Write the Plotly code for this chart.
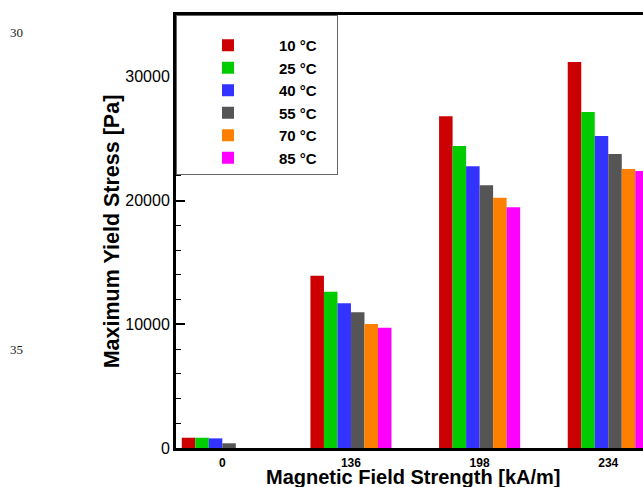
import plotly.graph_objects as go

# ---- data ----
fields = ["0", "136", "198", "234"]
temps = ["10 °C", "25 °C", "40 °C", "55 °C", "70 °C", "85 °C"]
stress_10 = [830, 13930, 26810, 31200]
stress_25 = [830, 12640, 24410, 27160]
stress_40 = [780, 11700, 22770, 25220]
stress_55 = [380, 10970, 21240, 23770]
stress_70 = [0, 10020, 20230, 22550]
stress_85 = [0, 9730, 19460, 22390]
series = [stress_10, stress_25, stress_40, stress_55, stress_70, stress_85]
colors = ["#CC0000", "#00CC00", "#3333FF", "#555555", "#FF8000", "#FF00FF"]
margin_numbers = ["30", "35"]
x_title = "Magnetic Field Strength [kA/m]"
y_title = "Maximum Yield Stress [Pa]"

W, H = 643, 487
ML, MR, MT, MB = 176, 0, 15, 39
PW, PH = W - ML - MR, H - MT - MB

fig = go.Figure()
for name, vals, col in zip(temps, series, colors):
    fig.add_bar(x=fields, y=vals, name=name,
                marker=dict(color=col, line=dict(width=0)))

FONT = "Liberation Sans, Arial, sans-serif"
fig.update_layout(
    width=W, height=H,
    margin=dict(l=ML, r=MR, t=MT, b=MB, autoexpand=False),
    barmode="group", bargap=0.37, bargroupgap=0,
    plot_bgcolor="white", paper_bgcolor="white",
    font=dict(family=FONT, color="black"),
    showlegend=True,
    legend=dict(x=0, y=1, xanchor="left", yanchor="top",
                bgcolor="white", bordercolor="#666666", borderwidth=1,
                font=dict(size=15, weight="bold", family=FONT),
                itemwidth=92,
                # invisible (non-breaking space) title: gives the box its top padding and width
                title=dict(text="\u00a0" * 56, font=dict(size=10))),
)
fig.update_xaxes(type="category", range=[-0.36, 3.27],
                 showline=True, linecolor="black", linewidth=3, mirror=True,
                 ticks="", showgrid=False, zeroline=False,
                 ticklabelstandoff=2,
                 tickfont=dict(size=12, weight="bold", family=FONT),
                 automargin=False)
fig.update_yaxes(range=[0, 35000], showline=True, linecolor="black", linewidth=3,
                 ticks="inside", ticklen=9, tickwidth=2, tickcolor="black",
                 dtick=10000, tickformat="d", showgrid=False, zeroline=False,
                 minor=dict(dtick=2000, ticks="inside", ticklen=5, tickwidth=1,
                            tickcolor="black", showgrid=False),
                 tickfont=dict(size=16, family=FONT),
                 title=dict(text=y_title,
                            font=dict(size=21.5, weight="bold", family=FONT),
                            standoff=0),
                 automargin=False)

# x-axis title placed just below the tick labels (partly cut by the bottom edge, as in the source)
fig.add_annotation(text=x_title, xref="paper", yref="paper",
                   x=(412.5 - ML) / PW, y=(MT + PH - 464) / PH,
                   xanchor="center", yanchor="top", showarrow=False,
                   font=dict(size=20, weight="bold", family=FONT, color="black"))

for txt, py in zip(margin_numbers, [33, 349]):
    fig.add_annotation(text=txt, xref="paper", yref="paper",
                       x=(16 - ML) / PW, y=(MT + PH - py) / PH,
                       xanchor="center", yanchor="middle", showarrow=False,
                       font=dict(family="Liberation Serif",
                                 size=13, color="#222222"))

fig.write_html("out.html")
